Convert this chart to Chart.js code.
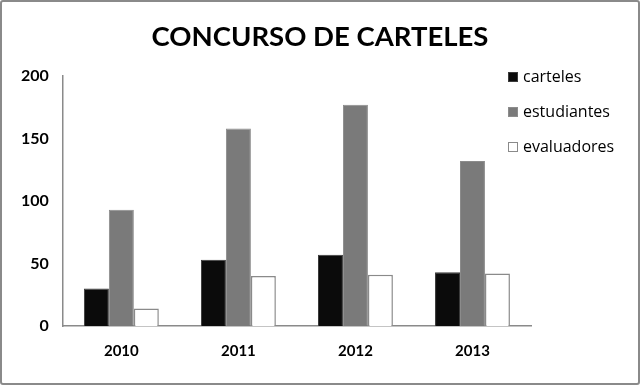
<!DOCTYPE html>
<html>
<head>
<meta charset="utf-8">
<script src="https://cdn.jsdelivr.net/npm/chart.js@4.4.0/dist/chart.umd.min.js"></script>
<style>
  html, body { margin: 0; padding: 0; background: #fff; }
  #wrap {
    position: relative;
    width: 640px; height: 385px;
    box-sizing: border-box;
    border: 2px solid #8a8a8a;
    border-radius: 3px;
  }
  canvas { display: block; }
</style>
</head>
<body>
<div id="wrap"><canvas id="chart"></canvas></div>
<script>
// Data
const years = ['2010', '2011', '2012', '2013'];
const carteles = [30, 53, 57, 43];
const estudiantes = [93, 158, 177, 132];
const evaluadores = [14, 40, 41, 42];
const yTicks = [0, 50, 100, 150, 200];
const titleText = 'CONCURSO DE CARTELES';

// Title centred on the whole canvas and legend on the right,
// legend entries come from the dataset labels and colours
const sideLegend = {
    id: 'sideLegend',
    afterDraw(chart) {
        const c = chart.ctx;
        c.save();
        c.font = 'bold 27.5px Lato';
        c.fillStyle = '#000';
        c.textAlign = 'center';
        c.textBaseline = 'middle';
        c.fillText(titleText, chart.width / 2, 35);

        const x = 506;
        const rows = [75, 110, 145];
        c.font = '16px "Open Sans"';
        c.textAlign = 'left';
        chart.data.datasets.forEach((ds, i) => {
            const y = rows[i];
            c.fillStyle = ds.backgroundColor;
            c.strokeStyle = ds.borderColor;
            c.lineWidth = 1;
            c.fillRect(x, y - 5, 10, 10);
            c.strokeRect(x + 0.5, y - 4.5, 9, 9);
            c.fillStyle = '#000';
            c.fillText(ds.label, x + 15, y);
        });
        c.restore();
    }
};

const ctx = document.getElementById('chart').getContext('2d');

const chart = new Chart(ctx, {
    type: 'bar',
    data: {
        labels: years,
        datasets: [{
            label: 'carteles',
            data: carteles,
            backgroundColor: '#0b0b0b',
            borderColor: '#3a3a3a',
            borderWidth: 1
        }, {
            label: 'estudiantes',
            data: estudiantes,
            backgroundColor: '#7a7a7a',
            borderColor: '#8c8c8c',
            borderWidth: 1
        }, {
            label: 'evaluadores',
            data: evaluadores,
            backgroundColor: '#ffffff',
            borderColor: '#8a8a8a',
            borderWidth: 1.5
        }]
    },
    options: {
        responsive: true,
        maintainAspectRatio: false,
        animation: false,
        layout: { padding: { left: 5, right: 107, top: 74, bottom: 7 } },
        datasets: {
            bar: { categoryPercentage: 0.64, barPercentage: 1 }
        },
        scales: {
            x: {
                grid: { display: false, drawTicks: false },
                border: { color: '#8a8a8a', width: 1.5 },
                ticks: {
                    color: '#000',
                    padding: 16,
                    font: { family: 'Lato', weight: 'bold', size: 15 }
                }
            },
            y: {
                min: 0,
                max: 200,
                afterBuildTicks: axis => { axis.ticks = yTicks.map(v => ({ value: v })); },
                grid: { display: false, drawTicks: false },
                border: { color: '#8a8a8a', width: 1.5 },
                ticks: {
                    color: '#000',
                    padding: 14,
                    font: { family: 'Lato', weight: 'bold', size: 16 }
                }
            }
        },
        plugins: {
            title: { display: false },
            legend: { display: false },
            tooltip: { enabled: false }
        }
    },
    plugins: [sideLegend]
});
</script>
</body>
</html>
